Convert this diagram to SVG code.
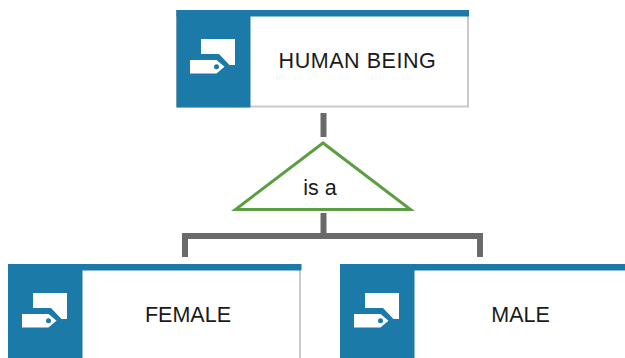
<svg xmlns="http://www.w3.org/2000/svg" width="625" height="358" viewBox="0 0 625 358">
<style>
.box{fill:#fff;stroke:#c9c9c9;stroke-width:2}
.blue{fill:#1b7aa8}
.ic{fill:#fff}
.lbl{font-family:"Liberation Sans",Arial,sans-serif;font-size:21.5px;fill:#1a1a1a;text-anchor:middle}
.conn{fill:none;stroke:#6a6a6a;stroke-width:6}
</style>
<defs>
<g id="icon">
<path class="ic" d="M25 29H59V55H53.500L43 44H25Z"/>
<path class="ic" d="M14 50H40.500L48.500 56.700L40.500 63.500H14Z"/>
<circle cx="40.500" cy="56.800" r="2.500" fill="#1b7aa8"/>
</g>
</defs>
<rect width="625" height="358" fill="#fff"/>
<g id="connectors">
<path class="conn" d="M323.500 113V137"/>
<path class="conn" d="M323.500 213V236"/>
<path class="conn" d="M185 257V236H480V257"/>
</g>
<g id="human-being">
<rect class="box" x="177" y="11" width="291" height="95.500"/>
<rect class="blue" x="176.500" y="10" width="292.500" height="6.500"/>
<rect class="blue" x="176.500" y="10" width="74" height="97.500"/>
<use href="#icon" x="176" y="10"/>
<text class="lbl" x="357.500" y="67.500" letter-spacing="0.55">HUMAN BEING</text>
</g>
<g id="is-a">
<path d="M323 143L235.500 209.500H410.500Z" fill="#fff" stroke="#5c9e42" stroke-width="3"/>
<text class="lbl" x="320" y="195">is a</text>
</g>
<g id="female">
<rect class="box" x="9" y="265" width="291" height="100"/>
<rect class="blue" x="8" y="264" width="293.500" height="6.500"/>
<rect class="blue" x="8" y="264" width="74.500" height="100"/>
<use href="#icon" x="8" y="264"/>
<text class="lbl" x="188" y="322">FEMALE</text>
</g>
<g id="male">
<rect class="box" x="341" y="265" width="291" height="100"/>
<rect class="blue" x="340" y="264" width="293.500" height="6.500"/>
<rect class="blue" x="340" y="264" width="74.500" height="100"/>
<use href="#icon" x="340" y="264"/>
<text class="lbl" x="520.500" y="322">MALE</text>
</g>
</svg>
